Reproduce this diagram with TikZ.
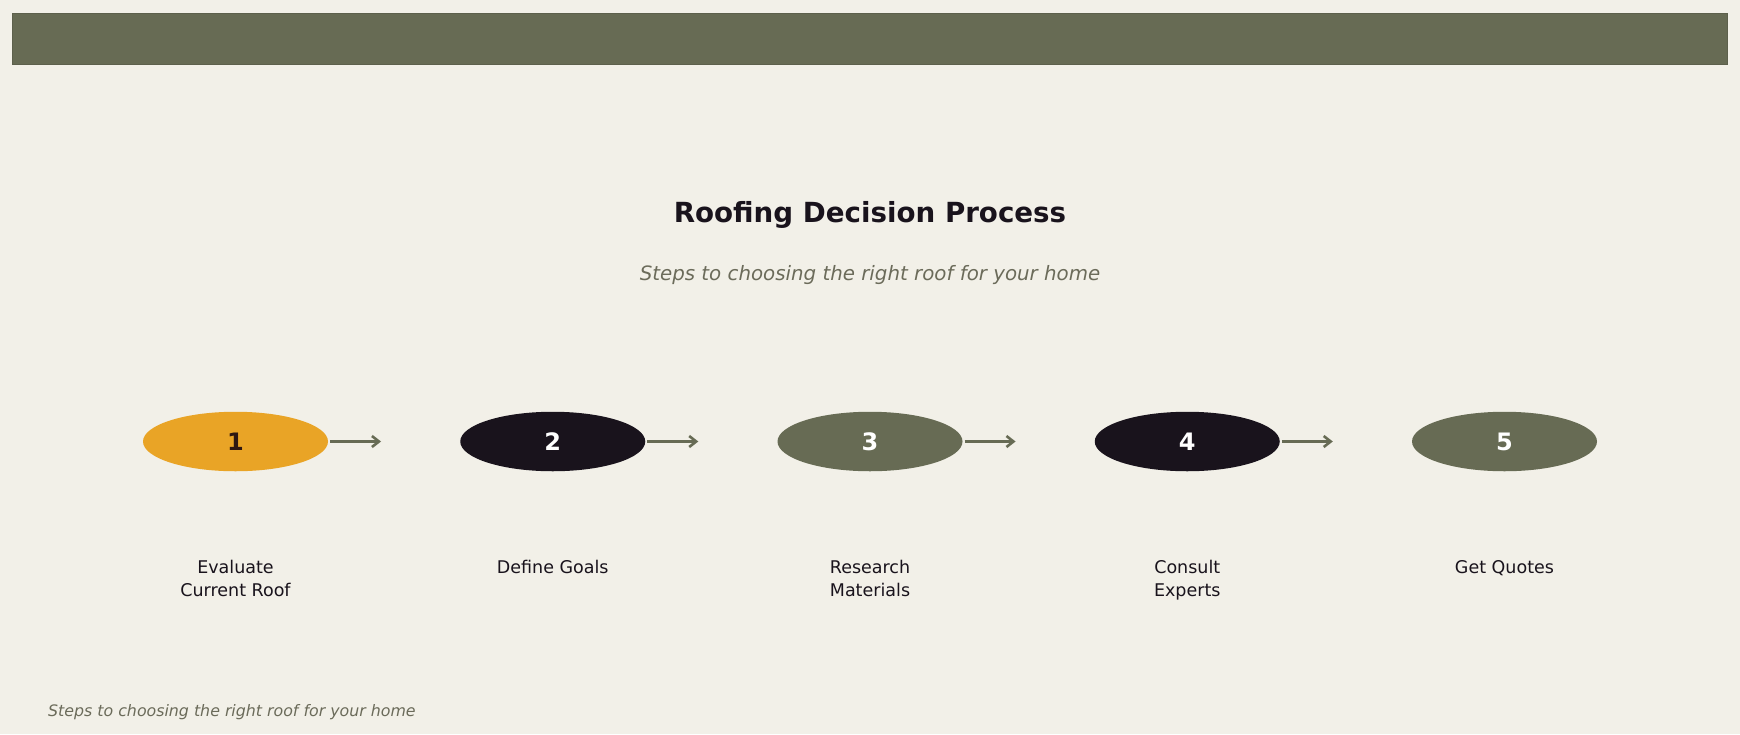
\documentclass[tikz,border=0pt]{standalone}
\usepackage{fontspec}
\setmainfont{DejaVu Sans}
\usepackage{xcolor}
\usepackage{tikz}
\usetikzlibrary{shapes.geometric,arrows.meta,positioning}

\definecolor{paper}{HTML}{F2F0E8}
\definecolor{olive}{HTML}{676B54}
\definecolor{amber}{HTML}{E9A426}
\definecolor{ink}{HTML}{19131C}
\definecolor{muted}{HTML}{6B6B5A}
\definecolor{maroon}{HTML}{2E1712}

\begin{document}
\begin{tikzpicture}[x=1pt,y=-1pt,
    stepdot/.style={ellipse, minimum width=185pt, minimum height=59.5pt, inner sep=0pt,
        font=\bfseries\fontsize{24}{28}\selectfont, text=white},
    steplabel/.style={anchor=north, align=center, inner sep=0pt, text=ink,
        font=\fontsize{17.5}{23}\selectfont},
    flow/.style={line width=2.6pt, draw=olive, -{Straight Barb[length=7pt,width=11pt]},
        shorten <=2pt, shorten >=79pt}]
    \fill[paper] (0,0) rectangle (1740,734);
    \useasboundingbox (0,0) rectangle (1740,734);
    \draw[fill=olive, draw=olive!90!black, line width=0.4pt] (12.5,13) rectangle (1727.5,64);
    %
    \node[anchor=base, text=ink, font=\bfseries\fontsize{27.7}{33}\selectfont] (title) at (870,222) {Roofing Decision Process};
    \node[anchor=base, text=muted, font=\itshape\fontsize{19.8}{24}\selectfont] (subtitle) at (870,280) {Steps to choosing the right roof for your home};
    %
    \node[stepdot, fill=amber, text=maroon] (s1) at (235.5,441.5) {1};
    \node[stepdot, fill=ink] (s2) at (552.75,441.5) {2};
    \node[stepdot, fill=olive] (s3) at (870,441.5) {3};
    \node[stepdot, fill=ink] (s4) at (1187.25,441.5) {4};
    \node[stepdot, fill=olive] (s5) at (1504.5,441.5) {5};
    %
    \draw[flow] (s1.east) -- (s2.west);
    \draw[flow] (s2.east) -- (s3.west);
    \draw[flow] (s3.east) -- (s4.west);
    \draw[flow] (s4.east) -- (s5.west);
    %
    \node[steplabel] (l1) at (235.5,560) {Evaluate\\Current Roof};
    \node[steplabel] (l2) at (552.75,560) {Define Goals};
    \node[steplabel] (l3) at (870,560) {Research\\Materials};
    \node[steplabel] (l4) at (1187.25,560) {Consult\\Experts};
    \node[steplabel] (l5) at (1504.5,560) {Get Quotes};
    %
    \node[anchor=base west, inner sep=0pt, text=muted, font=\itshape\fontsize{15.8}{19}\selectfont] (footer) at (48,716) {Steps to choosing the right roof for your home};
\end{tikzpicture}
\end{document}
